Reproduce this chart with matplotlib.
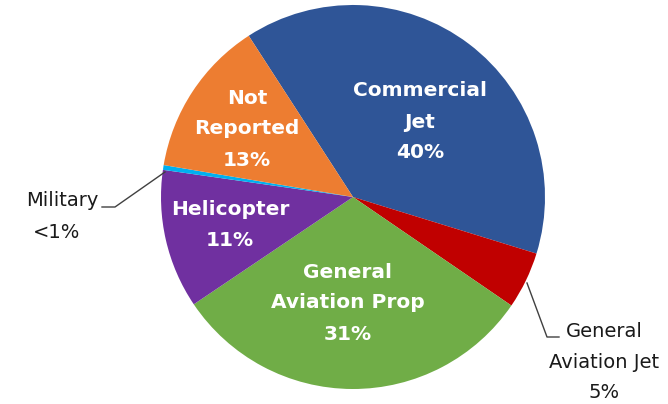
import matplotlib.pyplot as plt

# datos del grafico (porcentajes)
categorias = ['Commercial Jet', 'General Aviation Jet', 'General Aviation Prop',
              'Helicopter', 'Military', 'Not Reported']
valores = [38.9, 4.8, 31.0, 11.7, 0.4, 13.2]
etiquetas = ['Commercial\nJet\n40%', 'General\nAviation Jet\n5%', 'General\nAviation Prop\n31%',
             'Helicopter\n11%', 'Military\n<1%', 'Not\nReported\n13%']
colores = ['#2F5597', '#C00000', '#70AD47', '#7030A0', '#00B0F0', '#ED7D31']

W, H = 668, 404
fig = plt.figure(figsize=(W / 100, H / 100), dpi=100)
ax = fig.add_axes([0, 0, 1, 1])

def py(y):
    # pasar coordenada de pixel (desde arriba) a datos
    return H - y

ax.pie(valores, colors=colores, startangle=122.9, counterclock=False,
       center=(353, py(197)), radius=192, frame=True,
       wedgeprops=dict(linewidth=0))
ax.set_xlim(0, W)
ax.set_ylim(0, H)
ax.set_aspect('equal')
ax.axis('off')

fuente = 'DejaVu Sans'
# etiquetas dentro de las porciones
dentro = {0: (420, 122), 2: (348, 303), 3: (230, 225), 5: (247, 129)}
for i, (x, y) in dentro.items():
    ax.text(x, py(y), etiquetas[i], color='white', fontsize=14.5, fontweight='bold',
            ha='center', va='center', linespacing=1.8, family=fuente)

# lineas guia y etiquetas de fuera
ax.plot([165, 115, 102], [py(172), py(207), py(207)], color='#404040', lw=1)
ax.text(98, py(201), 'Military', ha='right', va='center', fontsize=14, color='#1a1a1a', family=fuente)
ax.text(57, py(232), '<1%', ha='center', va='center', fontsize=14, color='#1a1a1a', family=fuente)

ax.plot([527, 547, 559], [py(283), py(337), py(337)], color='#404040', lw=1)
ax.text(604, py(362), etiquetas[1], ha='center', va='center', fontsize=14,
        color='#1a1a1a', linespacing=1.78, family=fuente)

plt.savefig('out.png', dpi=100)
